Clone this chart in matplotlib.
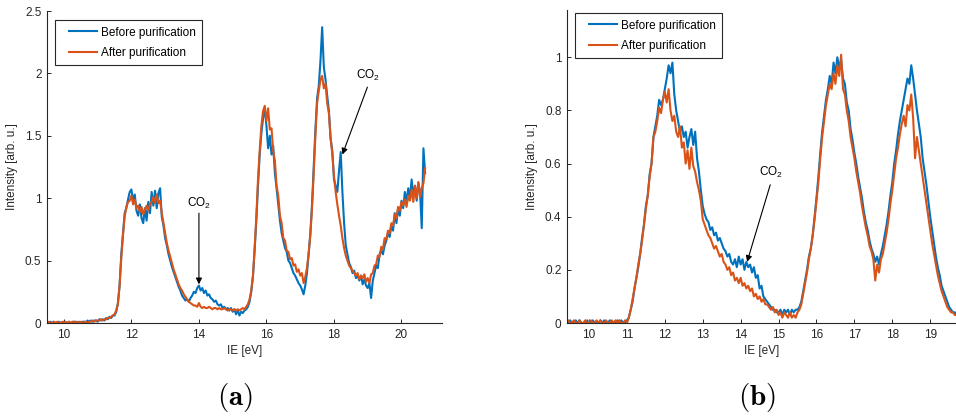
import numpy as np
import matplotlib
matplotlib.use("Agg")
import matplotlib.pyplot as plt
from matplotlib.lines import Line2D
from matplotlib.legend_handler import HandlerLine2D
from matplotlib.ticker import FormatStrFormatter, MultipleLocator

# spectra sampled every 0.05 eV
# panel (a): 9.5 ... 20.7 eV
step = 0.05
start_a = 9.5
before_a = [
    0.00, 0.00, 0.01, 0.00, 0.01, 0.00, 0.00, 0.01, 0.00, 0.00,
    0.01, 0.00, 0.00, 0.01, 0.00, 0.00, 0.01, 0.01, 0.00, 0.01, 0.00, 0.01, 0.01, 0.00, 0.02, 0.01, 0.02, 0.01, 0.02, 0.02,
    0.01, 0.03, 0.02, 0.03, 0.02, 0.04, 0.03, 0.05, 0.04, 0.06, 0.06, 0.09, 0.16, 0.30, 0.55, 0.72, 0.88, 0.92, 0.99, 1.05,
    1.07, 0.98, 1.03, 0.90, 0.86, 0.95, 0.84, 0.80, 0.92, 0.82, 0.97, 0.88, 1.05, 0.94, 1.06, 0.92, 1.04, 1.08, 0.85, 0.78,
    0.68, 0.62, 0.55, 0.50, 0.45, 0.41, 0.37, 0.33, 0.29, 0.26, 0.22, 0.20, 0.18, 0.19, 0.17, 0.20, 0.22, 0.25, 0.24, 0.28,
    0.30, 0.26, 0.28, 0.24, 0.26, 0.22, 0.23, 0.20, 0.19, 0.17, 0.18, 0.15, 0.14, 0.15, 0.12, 0.13, 0.11, 0.12, 0.10, 0.12,
    0.09, 0.11, 0.07, 0.10, 0.06, 0.09, 0.08, 0.10, 0.11, 0.13, 0.17, 0.25, 0.37, 0.58, 0.82, 1.10, 1.35, 1.52, 1.64, 1.72,
    1.58, 1.40, 1.50, 1.35, 1.42, 1.20, 1.08, 0.95, 0.82, 0.72, 0.66, 0.60, 0.57, 0.50, 0.48, 0.44, 0.40, 0.38, 0.35, 0.32,
    0.30, 0.27, 0.23, 0.30, 0.40, 0.55, 0.72, 0.95, 1.25, 1.55, 1.80, 1.90, 2.10, 2.37, 2.05, 1.95, 1.82, 1.70, 1.48, 1.38,
    1.15, 1.10, 1.05, 1.22, 1.37, 1.05, 0.80, 0.62, 0.55, 0.48, 0.45, 0.40, 0.42, 0.36, 0.38, 0.34, 0.38, 0.31, 0.35, 0.30,
    0.28, 0.32, 0.20, 0.34, 0.40, 0.46, 0.44, 0.55, 0.58, 0.55, 0.62, 0.66, 0.72, 0.69, 0.78, 0.74, 0.88, 0.80, 0.92, 0.86,
    0.98, 0.92, 1.05, 0.97, 1.08, 1.00, 1.15, 1.02, 1.10, 0.98, 1.12, 1.05, 0.76, 1.40, 1.20,
]
after_a = [
    0.00, 0.01, 0.00, 0.00, 0.01, 0.00, 0.01, 0.00, 0.00, 0.01,
    0.00, 0.01, 0.00, 0.01, 0.00, 0.01, 0.01, 0.00, 0.01, 0.00, 0.01, 0.00, 0.01, 0.01, 0.00, 0.01, 0.01, 0.02, 0.01, 0.02,
    0.02, 0.02, 0.03, 0.02, 0.03, 0.03, 0.04, 0.04, 0.05, 0.06, 0.07, 0.10, 0.15, 0.30, 0.52, 0.70, 0.85, 0.93, 0.97, 0.98,
    1.02, 0.95, 0.99, 0.92, 0.94, 0.89, 0.93, 0.87, 0.91, 0.94, 0.90, 0.95, 0.97, 1.01, 0.96, 1.03, 0.96, 0.98, 0.88, 0.80,
    0.72, 0.64, 0.58, 0.53, 0.48, 0.43, 0.39, 0.35, 0.31, 0.28, 0.26, 0.23, 0.21, 0.19, 0.17, 0.16, 0.15, 0.14, 0.14, 0.13,
    0.16, 0.13, 0.12, 0.13, 0.12, 0.12, 0.13, 0.12, 0.11, 0.12, 0.12, 0.11, 0.12, 0.11, 0.11, 0.12, 0.11, 0.10, 0.11, 0.11,
    0.10, 0.11, 0.10, 0.11, 0.10, 0.11, 0.12, 0.11, 0.13, 0.15, 0.19, 0.26, 0.38, 0.60, 0.85, 1.15, 1.38, 1.58, 1.70, 1.74,
    1.62, 1.72, 1.55, 1.56, 1.38, 1.30, 1.10, 1.02, 0.86, 0.80, 0.68, 0.66, 0.58, 0.57, 0.51, 0.52, 0.46, 0.47, 0.41, 0.43,
    0.38, 0.40, 0.32, 0.37, 0.44, 0.56, 0.70, 0.92, 1.20, 1.50, 1.76, 1.86, 1.95, 1.98, 1.88, 1.92, 1.76, 1.68, 1.48, 1.36,
    1.18, 1.05, 0.95, 0.86, 0.78, 0.68, 0.60, 0.54, 0.50, 0.46, 0.44, 0.42, 0.40, 0.38, 0.40, 0.35, 0.38, 0.36, 0.39, 0.33,
    0.36, 0.32, 0.39, 0.40, 0.46, 0.47, 0.54, 0.53, 0.61, 0.59, 0.68, 0.67, 0.74, 0.72, 0.80, 0.78, 0.87, 0.84, 0.93, 0.90,
    0.97, 0.94, 0.99, 0.93, 1.02, 0.98, 1.07, 0.97, 1.10, 1.00, 1.13, 1.01, 1.08, 1.12, 1.24,
]

# panel (b): 9.4 ... 19.7 eV
start_b = 9.4
before_b = [
    0.00, 0.00, 0.01, 0.00, 0.00, 0.01, 0.00, 0.01, 0.00, 0.00, 0.00, 0.01,
    0.00, 0.00, 0.01, 0.00, 0.00, 0.00, 0.01, 0.00, 0.01, 0.00, 0.00, 0.01, 0.00, 0.00, 0.00, 0.01, 0.00, 0.01, 0.00, 0.00,
    0.01, 0.02, 0.05, 0.08, 0.13, 0.17, 0.21, 0.26, 0.32, 0.37, 0.44, 0.48, 0.56, 0.60, 0.70, 0.74, 0.78, 0.84, 0.82, 0.84,
    0.88, 0.92, 0.97, 0.94, 0.98, 0.86, 0.80, 0.76, 0.72, 0.74, 0.70, 0.72, 0.66, 0.70, 0.73, 0.67, 0.72, 0.62, 0.57, 0.50,
    0.44, 0.41, 0.39, 0.38, 0.35, 0.36, 0.33, 0.34, 0.31, 0.32, 0.30, 0.28, 0.27, 0.25, 0.26, 0.23, 0.22, 0.24, 0.21, 0.25,
    0.22, 0.24, 0.20, 0.23, 0.21, 0.22, 0.19, 0.21, 0.17, 0.18, 0.13, 0.14, 0.10, 0.09, 0.08, 0.07, 0.06, 0.05, 0.05, 0.04,
    0.04, 0.05, 0.03, 0.05, 0.04, 0.05, 0.03, 0.05, 0.04, 0.05, 0.05, 0.06, 0.08, 0.12, 0.16, 0.20, 0.25, 0.28, 0.33, 0.40,
    0.47, 0.55, 0.64, 0.72, 0.78, 0.84, 0.88, 0.93, 0.90, 0.98, 0.94, 1.00, 0.96, 0.99, 0.92, 0.90, 0.83, 0.80, 0.73, 0.69,
    0.64, 0.60, 0.55, 0.51, 0.47, 0.42, 0.38, 0.35, 0.31, 0.28, 0.26, 0.23, 0.25, 0.22, 0.26, 0.29, 0.33, 0.37, 0.42, 0.48,
    0.53, 0.60, 0.65, 0.71, 0.76, 0.80, 0.84, 0.88, 0.92, 0.90, 0.97, 0.92, 0.86, 0.80, 0.75, 0.70, 0.62, 0.57, 0.52, 0.46,
    0.40, 0.35, 0.30, 0.25, 0.21, 0.18, 0.14, 0.12, 0.10, 0.08, 0.06, 0.05, 0.04, 0.04, 0.03,
]
after_b = [
    0.00, 0.01, 0.00, 0.00, 0.01, 0.00, 0.00, 0.01, 0.00, 0.00, 0.01, 0.00,
    0.00, 0.01, 0.00, 0.00, 0.01, 0.00, 0.01, 0.00, 0.00, 0.01, 0.00, 0.00, 0.01, 0.00, 0.01, 0.00, 0.01, 0.00, 0.00, 0.01,
    0.00, 0.02, 0.05, 0.09, 0.13, 0.17, 0.22, 0.26, 0.31, 0.37, 0.43, 0.48, 0.55, 0.60, 0.70, 0.72, 0.76, 0.81, 0.79, 0.84,
    0.87, 0.83, 0.88, 0.80, 0.76, 0.78, 0.72, 0.70, 0.74, 0.66, 0.68, 0.60, 0.65, 0.58, 0.66, 0.59, 0.57, 0.53, 0.50, 0.46,
    0.39, 0.37, 0.35, 0.33, 0.32, 0.30, 0.28, 0.29, 0.27, 0.25, 0.26, 0.23, 0.22, 0.20, 0.21, 0.18, 0.19, 0.16, 0.17, 0.15,
    0.17, 0.14, 0.15, 0.13, 0.14, 0.12, 0.13, 0.10, 0.11, 0.09, 0.10, 0.08, 0.09, 0.07, 0.07, 0.06, 0.05, 0.06, 0.04, 0.05,
    0.03, 0.04, 0.02, 0.04, 0.03, 0.02, 0.04, 0.02, 0.03, 0.02, 0.04, 0.05, 0.07, 0.11, 0.15, 0.19, 0.24, 0.28, 0.33, 0.39,
    0.46, 0.53, 0.62, 0.70, 0.76, 0.82, 0.86, 0.90, 0.88, 0.94, 0.90, 0.97, 0.93, 1.01, 0.88, 0.86, 0.80, 0.76, 0.70, 0.66,
    0.62, 0.57, 0.53, 0.49, 0.44, 0.40, 0.36, 0.33, 0.29, 0.27, 0.24, 0.16, 0.22, 0.19, 0.24, 0.26, 0.30, 0.34, 0.39, 0.45,
    0.50, 0.56, 0.62, 0.66, 0.71, 0.75, 0.78, 0.74, 0.82, 0.80, 0.86, 0.77, 0.62, 0.70, 0.65, 0.60, 0.55, 0.50, 0.45, 0.40,
    0.35, 0.30, 0.26, 0.22, 0.18, 0.15, 0.12, 0.10, 0.08, 0.06, 0.05, 0.04, 0.04, 0.03, 0.03,
]

labels = ["Before purification", "After purification"]
colors = ["#0072BD", "#D95319"]
ink = "#262626"

plt.rcParams.update({
    "font.family": ["Liberation Sans", "DejaVu Sans"],
    "font.size": 8.5,
    "mathtext.fontset": "custom",
    "mathtext.rm": "Liberation Sans",
    "mathtext.it": "Liberation Sans:italic",
    "mathtext.bf": "Liberation Sans:bold",
    "axes.edgecolor": ink,
    "axes.linewidth": 0.8,
    "xtick.color": ink,
    "ytick.color": ink,
    "xtick.direction": "in",
    "ytick.direction": "in",
    "xtick.major.size": 3,
    "ytick.major.size": 3,
    "xtick.major.width": 0.7,
    "ytick.major.width": 0.7,
})

W, H = 956, 418
fig = plt.figure(figsize=(W / 100, H / 100), dpi=100)
ax_a = fig.add_axes([47 / W, 1 - 323 / H, 395 / W, 312 / H])
ax_b = fig.add_axes([567 / W, 1 - 323 / H, 389 / W, 313 / H])


def draw_panel(ax, start, before, after, xlim, ylim, xstep, ystep, legend_top):
    e_before = start + step * np.arange(len(before))
    e_after = start + step * np.arange(len(after))
    ax.plot(e_before, before, color=colors[0], lw=1.5, label=labels[0])
    ax.plot(e_after, after, color=colors[1], lw=1.5, label=labels[1])
    ax.set_xlim(*xlim)
    ax.set_ylim(*ylim)
    ax.xaxis.set_major_locator(MultipleLocator(xstep))
    ax.yaxis.set_major_locator(MultipleLocator(ystep))
    ax.yaxis.set_major_formatter(FormatStrFormatter("%g"))
    ax.xaxis.set_major_formatter(FormatStrFormatter("%g"))
    for s in ("top", "right"):
        ax.spines[s].set_visible(False)
    ax.tick_params(labelsize=8.5, labelcolor=ink, pad=4)
    ax.set_xlabel("IE [eV]", fontsize=8.5, color=ink, labelpad=3)
    ax.set_ylabel("Intensity [arb. u.]", fontsize=8.5, color=ink, labelpad=5)
    leg = ax.legend(loc="upper left", bbox_to_anchor=(0.02, legend_top),
                    borderaxespad=0, fancybox=False, framealpha=1,
                    edgecolor=ink, fontsize=8.5, borderpad=0.55,
                    labelspacing=0.7, handlelength=3.0, handletextpad=0.35,
                    handler_map={Line2D: HandlerLine2D(xpad=0.65)})
    leg.get_frame().set_linewidth(0.8)
    for line in leg.get_lines():
        line.set_linewidth(1.5)


draw_panel(ax_a, start_a, before_a, after_a, (9.5, 21.2), (0, 2.5), 2, 0.5, 0.971)
draw_panel(ax_b, start_b, before_b, after_b, (9.42, 19.68), (0, 1.178), 1, 0.2, 0.99)

arrow = dict(arrowstyle="-|>", color="black", lw=0.8, mutation_scale=9,
             shrinkA=0, shrinkB=0)

ax_a.annotate("", xy=(14.0, 0.31), xytext=(14.0, 0.88), arrowprops=arrow)
ax_a.text(14.0, 0.96, "CO$_2$", ha="center", va="center", fontsize=8.5)
ax_a.annotate("", xy=(18.25, 1.35), xytext=(18.99, 1.89), arrowprops=arrow)
ax_a.text(19.02, 1.98, "CO$_2$", ha="center", va="center", fontsize=8.5)

ax_b.annotate("", xy=(14.17, 0.23), xytext=(14.78, 0.52), arrowprops=arrow)
ax_b.text(14.8, 0.568, "CO$_2$", ha="center", va="center", fontsize=8.5)

fig.text(235 / W, 1 - 398 / H, r"$\mathbf{(a)}$", math_fontfamily="cm",
         fontsize=21, ha="center", va="center")
fig.text(757 / W, 1 - 398 / H, r"$\mathbf{(b)}$", math_fontfamily="cm",
         fontsize=21, ha="center", va="center")

fig.savefig("out.png", dpi=100)
